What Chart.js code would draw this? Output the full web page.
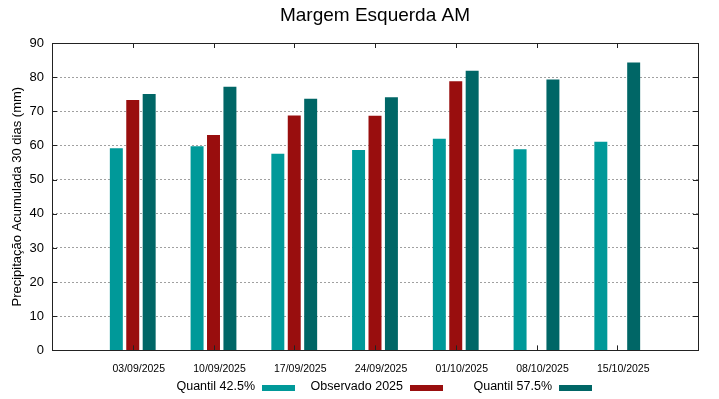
<!DOCTYPE html>
<html>
<head>
<meta charset="utf-8">
<script src="https://cdn.jsdelivr.net/npm/chart.js@4/dist/chart.umd.min.js"></script>
<style>
  html, body { margin: 0; padding: 0; background: #fff; }
  #wrap { width: 719px; height: 399px; }
</style>
</head>
<body>
<div id="wrap"><canvas id="myChart" width="719" height="399"></canvas></div>
<script>
// data
const dates = ['03/09/2025', '10/09/2025', '17/09/2025', '24/09/2025', '01/10/2025', '08/10/2025', '15/10/2025'];
const quantil425 = [59.2, 59.8, 57.6, 58.7, 62.0, 58.9, 61.1];
const observado2025 = [73.3, 63.1, 68.8, 68.7, 78.8, null, null];
const quantil575 = [75.1, 77.2, 73.7, 74.1, 81.9, 79.3, 84.3];
const yTicks = [0, 10, 20, 30, 40, 50, 60, 70, 80, 90];

const chartTitle = 'Margem Esquerda AM';
const yTitle = 'Precipitação Acumulada 30 dias (mm)';

// gnuplot-like range: one empty slot on each side
const labels = [''].concat(dates, ['']);
function pad(arr) {
    return [null].concat(arr, [null]);
}

const font = "'Liberation Sans', Arial, sans-serif";

// title centred over the plot, box around the plot, inward ticks, gnuplot style key
const framePlugin = {
    id: 'frame',
    afterDraw(chart) {
        const ctx = chart.ctx;
        const a = chart.chartArea;
        const x = chart.scales.x;
        const y = chart.scales.y;
        ctx.save();
        ctx.strokeStyle = '#222';
        ctx.lineWidth = 1;
        ctx.beginPath();
        yTicks.forEach(v => {
            if (v === 0 || v === 90) return;
            const py = Math.round(y.getPixelForValue(v)) + 0.5;
            ctx.moveTo(a.left, py); ctx.lineTo(a.left + 5, py);
            ctx.moveTo(a.right, py); ctx.lineTo(a.right - 5, py);
        });
        dates.forEach((d, i) => {
            const px = Math.round(x.getPixelForValue(i + 1)) + 0.5;
            ctx.moveTo(px, a.bottom); ctx.lineTo(px, a.bottom - 5);
            ctx.moveTo(px, a.top); ctx.lineTo(px, a.top + 5);
        });
        ctx.stroke();
        ctx.strokeRect(Math.round(a.left) + 0.5, Math.round(a.top) + 0.5,
            Math.round(a.right - a.left), Math.round(a.bottom - a.top));

        const mid = (a.left + a.right) / 2;
        ctx.fillStyle = '#000';
        ctx.font = '19px ' + font;
        ctx.textAlign = 'center';
        ctx.textBaseline = 'middle';
        ctx.fillText(chartTitle, mid, 16);

        // key: text then colour sample, like gnuplot
        const keyX = [-113, 35, 184];
        ctx.font = '12.5px ' + font;
        ctx.textAlign = 'right';
        chart.data.datasets.forEach((ds, i) => {
            const bx = Math.round(mid + keyX[i]);
            ctx.fillStyle = '#000';
            ctx.fillText(ds.label, bx - 7, 387);
            ctx.fillStyle = ds.backgroundColor;
            ctx.fillRect(bx, 385, 33, 6);
        });
        ctx.restore();
    }
};

const ctx = document.getElementById('myChart').getContext('2d');
new Chart(ctx, {
    type: 'bar',
    data: {
        labels: labels,
        datasets: [
            {
                label: 'Quantil 42.5%',
                data: pad(quantil425),
                backgroundColor: 'rgb(0, 153, 153)',
                borderWidth: 0
            },
            {
                label: 'Observado 2025',
                data: pad(observado2025),
                backgroundColor: 'rgb(153, 14, 14)',
                borderWidth: 0
            },
            {
                label: 'Quantil 57.5%',
                data: pad(quantil575),
                backgroundColor: 'rgb(0, 102, 102)',
                borderWidth: 0
            }
        ]
    },
    options: {
        responsive: false,
        animation: false,
        categoryPercentage: 0.61,
        barPercentage: 0.79,
        layout: {
            padding: { top: 43, right: 21, left: 0, bottom: 12 }
        },
        plugins: {
            title: { display: false },
            tooltip: { enabled: false },
            legend: { display: false }
        },
        scales: {
            x: {
                offset: false,
                grid: { display: false, drawTicks: false },
                border: { display: false },
                ticks: {
                    color: '#000',
                    font: { family: font, size: 10.5 },
                    maxRotation: 0,
                    autoSkip: false,
                    padding: 12,
                    labelOffset: 6
                }
            },
            y: {
                min: 0,
                max: 90,
                afterFit(scale) { scale.width = 52; },
                afterBuildTicks(scale) {
                    scale.ticks = yTicks.map(v => ({ value: v }));
                },
                grid: {
                    drawTicks: false,
                    color: ctx => (ctx.tick && (ctx.tick.value === 0 || ctx.tick.value === 90)) ? 'rgba(0,0,0,0)' : '#a0a0a0',
                    lineWidth: 1
                },
                border: { display: false, dash: [2, 2] },
                ticks: {
                    color: '#000',
                    font: { family: font, size: 13 },
                    padding: 8
                },
                title: {
                    display: true,
                    text: yTitle,
                    color: '#000',
                    font: { family: font, size: 13 },
                    padding: { top: 10, bottom: 0 }
                }
            }
        }
    },
    plugins: [framePlugin]
});
</script>
</body>
</html>
